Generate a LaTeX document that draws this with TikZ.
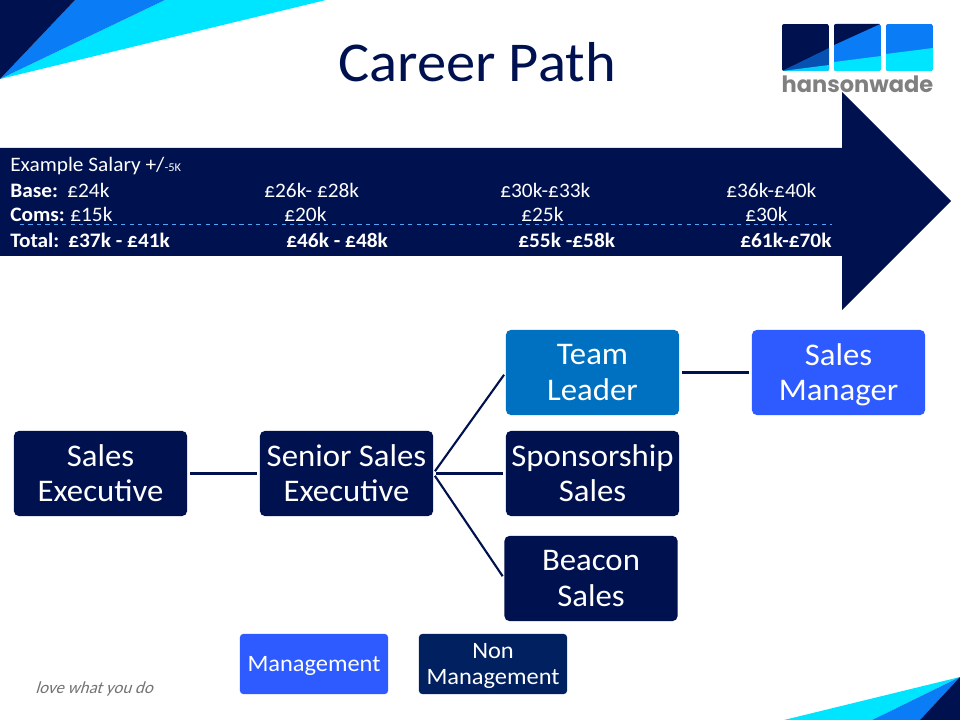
\documentclass[tikz,border=0pt]{standalone}
\usepackage{fontspec}
\setmainfont[FakeStretch=1.04]{Carlito}
\newfontfamily\hwfont{Poppins}
\newfontfamily\handfont[FakeSlant=0.3]{Carlito}
\usetikzlibrary{positioning}
\definecolor{hwnavy}{HTML}{00114F}
\definecolor{hwblue}{HTML}{0A7CF5}
\definecolor{hwcyan}{HTML}{00E5FF}
\definecolor{hwteam}{HTML}{0070C0}
\definecolor{hwmanager}{HTML}{2E5BFF}
\definecolor{hwnon}{HTML}{002060}

\begin{document}
\begin{tikzpicture}[
     x=0.025cm,y=-0.025cm,
     role/.style={rectangle,rounded corners=0.12cm,fill=hwnavy,text=white,minimum width=4.325cm,minimum height=2.125cm,inner sep=0pt,text depth=0.7pt,align=center,font=\fontsize{22.4}{25.5}\selectfont},
     key/.style={rectangle,rounded corners=0.08cm,text=white,minimum width=3.7cm,minimum height=1.5cm,inner sep=0pt,text depth=0pt,align=center,font=\fontsize{16.7}{18.4}\selectfont},
     pay/.style={anchor=base west,inner sep=0pt,text=white,font=\fontsize{14.6}{17}\selectfont},
     link/.style={draw=hwnavy,line width=1.5pt,shorten >=2pt,shorten <=2pt}
   ]
   \path[use as bounding box] (0,0) rectangle (960,720);
   % Corner wedges.
   \fill[hwcyan] (0,79) -- (326,0) -- (165,0) -- cycle;
   \fill[hwblue] (0,79) -- (165,0) -- (75,0) -- cycle;
   \fill[hwnavy] (0,79) -- (75,0) -- (0,0) -- cycle;
   \fill[hwcyan] (960,677) -- (784,720) -- (872,720) -- cycle;
   \fill[hwblue] (960,677) -- (872,720) -- (920,720) -- cycle;
   \fill[hwnavy] (960,677) -- (920,720) -- (960,720) -- cycle;
   % Title.
   \node[inner sep=0pt,text=hwnavy,font=\fontsize{40}{48}\selectfont] (title) at (477,62) {Career Path};
   % Logo.
   \begin{scope}
     \clip[rounded corners=0.05cm] (782,24) rectangle (829,71);
     \fill[hwnavy] (782,24) rectangle (829,71);
     \fill[hwblue!60!hwnavy] (782,71) -- (829,48) -- (829,71) -- cycle;
     \fill[hwcyan!80!hwblue] (782,71) -- (829,65) -- (829,71) -- cycle;
   \end{scope}
   \begin{scope}
     \clip[rounded corners=0.05cm] (834,24) rectangle (881,71);
     \fill[hwblue] (834,24) rectangle (881,71);
     \fill[hwnavy] (834,24) -- (880,24) -- (834,45) -- cycle;
     \fill[hwcyan] (834,62) -- (881,56) -- (881,71) -- (834,71) -- cycle;
   \end{scope}
   \begin{scope}
     \clip[rounded corners=0.05cm] (886,24) rectangle (933,71);
     \fill[hwblue] (886,24) rectangle (933,71);
     \fill[hwcyan] (886,54) -- (933,48) -- (933,71) -- (886,71) -- cycle;
   \end{scope}
   \node[anchor=base,inner sep=0pt,text=black!50,font=\hwfont\bfseries\fontsize{16}{18}\selectfont] (brand) at (857.5,92.5) {hansonwade};
   % Salary arrow.
   \fill[hwnavy] (0,148) -- (842,148) -- (842,92) -- (951,201) -- (842,310) -- (842,256) -- (0,256) -- cycle;
   \coordinate (ruleleft) at (20,224);
   \coordinate (ruleright) at (832,224);
   \draw[hwblue!70!white,dashed,line width=0.5pt] (ruleleft) -- (ruleright);
   \node[pay] (head) at (10,172) {Example Salary +/{\fontsize{8.5}{9}\selectfont -5K}};
   \node[pay] (baselabel) at (10,198) {\textbf{Base:}};
   \node[pay] (baseA) at (67,198) {£24k};
   \node[pay] (baseB) at (264,198) {£26k- £28k};
   \node[pay] (baseC) at (500,198) {£30k-£33k};
   \node[pay] (baseD) at (726,198) {£36k-£40k};
   \node[pay] (comslabel) at (10,222) {\textbf{Coms:}};
   \node[pay] (comsA) at (70,222) {£15k};
   \node[pay] (comsB) at (284,222) {£20k};
   \node[pay] (comsC) at (521,222) {£25k};
   \node[pay] (comsD) at (745,222) {£30k};
   \node[pay] (totallabel) at (10,248) {\textbf{Total:}};
   \node[pay] (totalA) at (68,248) {\textbf{£37k - £41k}};
   \node[pay] (totalB) at (286,248) {\textbf{£46k - £48k}};
   \node[pay] (totalC) at (518,248) {\textbf{£55k -£58k}};
   \node[pay] (totalD) at (740,248) {\textbf{£61k-£70k}};
   % Roles.
   \node[role] (exec) at (100.5,473.5) {Sales\\Executive};
   \node[role] (senior) at (346.5,473.5) {Senior Sales\\Executive};
   \node[role,fill=hwteam] (team) at (592.5,372.5) {Team\\Leader};
   \node[role,fill=hwmanager] (manager) at (838.5,372.5) {Sales\\Manager};
   \node[role] (sponsor) at (592.5,473.5) {Sponsorship\\Sales};
   \node[role] (beacon) at (591,578.5) {Beacon\\Sales};
   % Links.
   \draw[link] (exec) -- (senior);
   \draw[link] (senior.east) -- (team.west);
   \draw[link] (senior.east) -- (sponsor.west);
   \draw[link] (senior.east) -- (beacon.west);
   \draw[link] (team) -- (manager);
   % Key.
   \node[key,fill=hwmanager] (keymanage) at (314,664) {Management};
   \node[key,fill=hwnon] (keynon) at (493,664) {Non\\Management};
   \node[inner sep=0pt,text=black!55,font=\handfont\fontsize{12}{15}\selectfont] (motto) at (94,689) {love what you do};
 \end{tikzpicture}
\end{document}
